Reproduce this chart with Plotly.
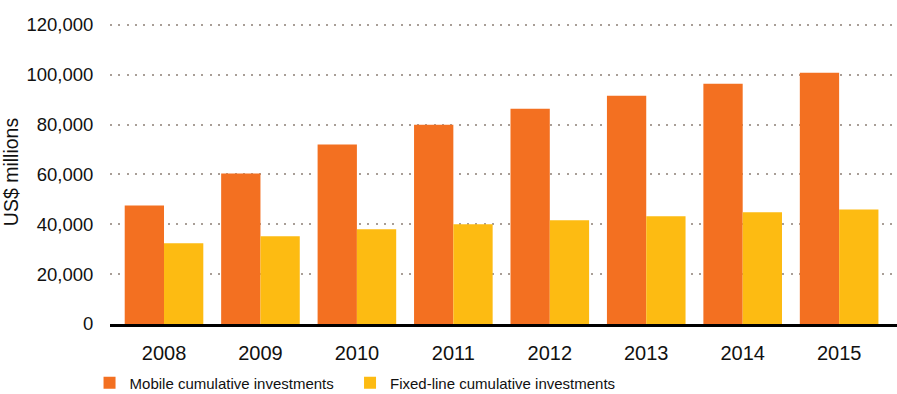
import plotly.graph_objects as go

years = ["2008", "2009", "2010", "2011", "2012", "2013", "2014", "2015"]
mobile = [47600, 60400, 72000, 80000, 86400, 91600, 96400, 100800]
fixed_line = [32400, 35200, 38000, 40000, 41600, 43200, 44800, 46000]
y_ticks = [0, 20000, 40000, 60000, 80000, 100000, 120000]

ORANGE = "#F37021"
YELLOW = "#FDBB12"
FONT = "Liberation Sans, Arial, Helvetica, sans-serif"

fig = go.Figure()
fig.add_trace(go.Bar(x=years, y=mobile, name="Mobile cumulative investments",
                     marker=dict(color=ORANGE, line=dict(width=0)), legend="legend"))
fig.add_trace(go.Bar(x=years, y=fixed_line, name="Fixed-line cumulative investments",
                     marker=dict(color=YELLOW, line=dict(width=0)), legend="legend2"))

legend_style = dict(orientation="h", xanchor="left", y=-0.14, yanchor="top",
                    font=dict(size=15, family=FONT, color="#111111"),
                    itemclick=False, bgcolor="rgba(0,0,0,0)")

fig.update_layout(
    width=897, height=394,
    margin=dict(l=110, r=0, t=20, b=70, autoexpand=False),
    paper_bgcolor="white", plot_bgcolor="white",
    barmode="group", bargap=0.185, bargroupgap=0,
    font=dict(family=FONT, color="#111111"),
    showlegend=True,
    legend=dict(x=-0.026, **legend_style),
    legend2=dict(x=0.305, **legend_style),
)
fig.update_xaxes(
    range=[-0.56, 7.6], showgrid=False,
    showline=True, linecolor="black", linewidth=3,
    ticks="outside", ticklen=9, tickcolor="rgba(0,0,0,0)",
    tickfont=dict(size=20, family=FONT, color="#111111"),
)
fig.update_yaxes(
    range=[0, 122000], tickvals=y_ticks,
    ticktext=[f"{v:,}" for v in y_ticks],
    showgrid=True, gridcolor="#A89E97", gridwidth=2, griddash="2px,6.3px",
    zeroline=False, showline=False,
    ticks="outside", ticklen=12, tickcolor="rgba(0,0,0,0)",
    tickfont=dict(size=18.5, family=FONT, color="#111111"),
    title=dict(text="US$ millions", font=dict(size=19.5, family=FONT, color="#111111"), standoff=6),
)

fig.write_html("out.html")
